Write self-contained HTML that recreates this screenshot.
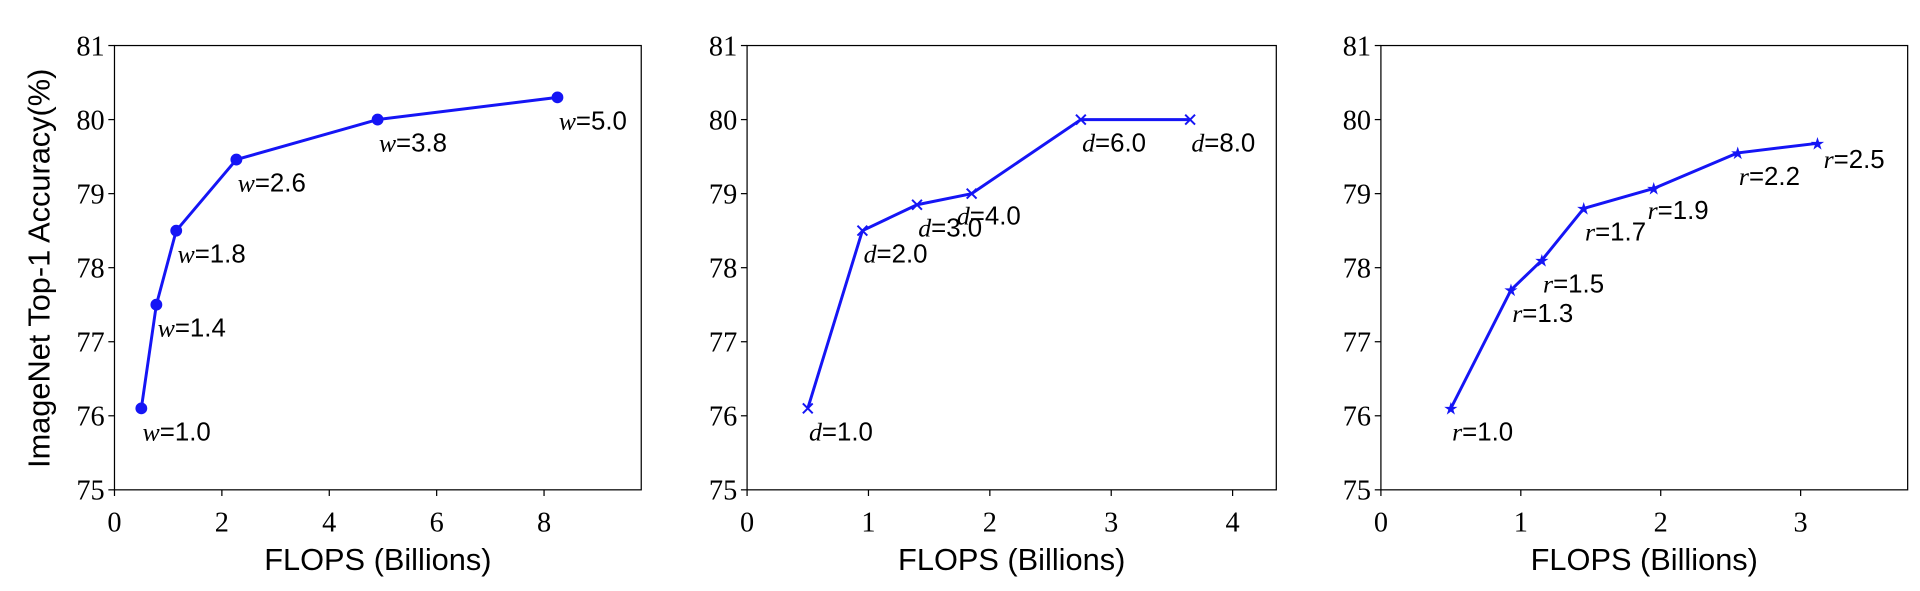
<!DOCTYPE html>
<html><head><meta charset="utf-8"><style>html,body{margin:0;padding:0;background:#fff}svg{display:block}</style></head>
<body>
<svg id="s" width="1920" height="591" viewBox="0 0 1560 480.2" xmlns="http://www.w3.org/2000/svg"></svg>
<script>
const s=document.getElementById('s');const NS='http://www.w3.org/2000/svg';
function el(t,a,txt){const e=document.createElementNS(NS,t);for(const k in a)e.setAttribute(k,a[k]);if(txt!==undefined)e.textContent=txt;s.appendChild(e);return e;}
const T=37,B=398;
const Y=v=>B-(v-75)*(B-T)/6;
const panels=[
 {L:93,R:521,xmax:9.81,ticks:[0,2,4,6,8],sym:'w',mk:'o',
  pts:[[0.5,76.1,'1.0'],[0.78,77.5,'1.4'],[1.15,78.5,'1.8'],[2.27,79.46,'2.6'],[4.9,80.0,'3.8'],[8.25,80.3,'5.0']]},
 {L:607,R:1037,xmax:4.36,ticks:[0,1,2,3,4],sym:'d',mk:'x',
  pts:[[0.5,76.1,'1.0'],[0.95,78.5,'2.0'],[1.4,78.85,'3.0'],[1.85,79.0,'4.0',-12,25],[2.75,80.0,'6.0'],[3.65,80.0,'8.0']]},
 {L:1122,R:1550,xmax:3.765,ticks:[0,1,2,3],sym:'r',mk:'*',
  pts:[[0.5,76.1,'1.0'],[0.93,77.7,'1.3'],[1.15,78.1,'1.5'],[1.45,78.8,'1.7'],[1.95,79.07,'1.9',-5,25],[2.55,79.55,'2.2'],[3.12,79.68,'2.5',5,20]]}
];
panels.forEach(p=>{
 const X=v=>p.L+v*(p.R-p.L)/p.xmax;
 el('rect',{x:p.L,y:T,width:p.R-p.L,height:B-T,fill:'none',stroke:'#000','stroke-width':1});
 for(let v=75;v<=81;v++){el('line',{x1:p.L-5,x2:p.L,y1:Y(v),y2:Y(v),stroke:'#000','stroke-width':1});
  el('text',{x:p.L-8,y:Y(v)+8,'text-anchor':'end','font-family':'Liberation Serif, serif','font-size':23},v);}
 p.ticks.forEach(v=>{el('line',{x1:X(v),x2:X(v),y1:B,y2:B+5,stroke:'#000','stroke-width':1});
  el('text',{x:X(v),y:B+34,'text-anchor':'middle','font-family':'Liberation Serif, serif','font-size':23},v);});
 el('text',{x:(p.L+p.R)/2,y:463,'text-anchor':'middle','font-family':'Liberation Sans, sans-serif','font-size':25},'FLOPS (Billions)');
 el('polyline',{points:p.pts.map(q=>X(q[0])+','+Y(q[1])).join(' '),fill:'none',stroke:'#1515f5','stroke-width':2.4,'stroke-linejoin':'round'});
 p.pts.forEach(q=>{const x=X(q[0]),y=Y(q[1]);
  if(p.mk==='o')el('circle',{cx:x,cy:y,r:4.8,fill:'#1515f5'});
  else if(p.mk==='x')el('path',{d:`M${x-4} ${y-4}L${x+4} ${y+4}M${x-4} ${y+4}L${x+4} ${y-4}`,stroke:'#1515f5','stroke-width':1.6});
  else el('text',{x:x,y:y+5,'text-anchor':'middle','font-size':14,fill:'#1515f5','font-family':'DejaVu Sans, sans-serif'},'\u2605');
  const dx=q[3]!==undefined?q[3]:1,dy=q[4]!==undefined?q[4]:26;
  const t=el('text',{x:x+dx,y:y+dy,'font-family':'Liberation Sans, sans-serif','font-size':21});
  const i=document.createElementNS(NS,'tspan');i.setAttribute('font-family','Liberation Serif, serif');i.setAttribute('font-style','italic');i.textContent=p.sym;t.appendChild(i);
  const r=document.createElementNS(NS,'tspan');r.textContent='='+q[2];t.appendChild(r);
 });
});
el('text',{x:0,y:0,transform:'translate(40,218) rotate(-90)','text-anchor':'middle','font-family':'Liberation Sans, sans-serif','font-size':25},'ImageNet Top-1 Accuracy(%)');
</script>
</body></html>
